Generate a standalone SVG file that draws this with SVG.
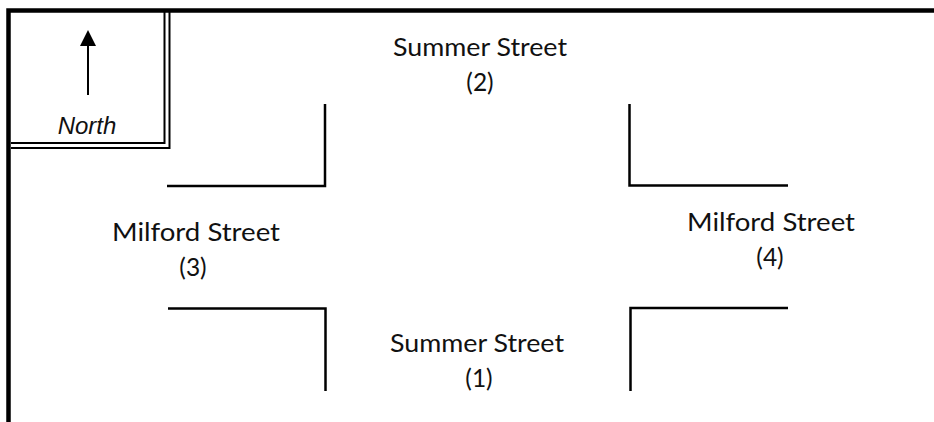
<svg xmlns="http://www.w3.org/2000/svg" width="934" height="422" viewBox="0 0 934 422">
<style>
.border{stroke:#000;stroke-width:4.5;fill:none}
.thin{stroke:#000;stroke-width:2;fill:none}
.road{stroke:#000;stroke-width:2.5;fill:none}
.lbl{font-family:Lato,"Liberation Sans",sans-serif;font-size:24.5px;fill:#111;text-anchor:middle}
.north{font-family:"Liberation Sans",Arial,sans-serif;font-style:italic;font-size:24px;fill:#111;text-anchor:middle}
</style>
<rect width="934" height="422" fill="#fff"/>
<g id="frame">
<path class="border" d="M8.5,422 V10.5 H934"/>
</g>
<g id="north-box">
<path class="thin" d="M11,143 H164.5 V12"/>
<path class="thin" d="M11,148 H169.5 V12"/>
<line x1="88" y1="95" x2="88" y2="45" stroke="#000" stroke-width="2"/>
<path d="M80,46 L88,30 L96,46 Z" fill="#000"/>
<text class="north" x="87" y="134">North</text>
</g>
<g id="connectors">
<path class="road" d="M325,104 V186 H167"/>
<path class="road" d="M629.5,104 V185.5 H788"/>
<path class="road" d="M168,308.5 H325.5 V391"/>
<path class="road" d="M788,308 H630.5 V391"/>
</g>
<g id="summer-2">
<text class="lbl" x="480" y="56" textLength="174" lengthAdjust="spacingAndGlyphs">Summer Street</text>
<text class="lbl" x="480" y="91">(2)</text>
</g>
<g id="milford-3">
<text class="lbl" x="196" y="241" textLength="168" lengthAdjust="spacingAndGlyphs">Milford Street</text>
<text class="lbl" x="193" y="276">(3)</text>
</g>
<g id="milford-4">
<text class="lbl" x="771" y="231" textLength="168" lengthAdjust="spacingAndGlyphs">Milford Street</text>
<text class="lbl" x="770" y="266">(4)</text>
</g>
<g id="summer-1">
<text class="lbl" x="477" y="352" textLength="174" lengthAdjust="spacingAndGlyphs">Summer Street</text>
<text class="lbl" x="479" y="387">(1)</text>
</g>
</svg>
